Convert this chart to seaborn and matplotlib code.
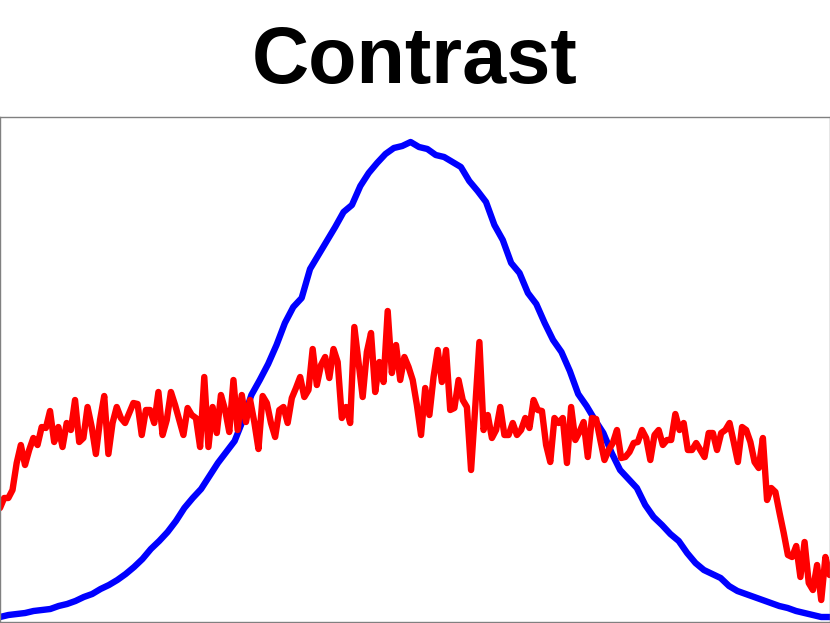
import numpy as np
import matplotlib
matplotlib.use('Agg')
import matplotlib.pyplot as plt
import seaborn as sns

# values (height above the bottom of the axes)
red_vals = [114, 124, 124, 132, 159, 177, 157, 172, 184, 177,
            195, 194, 211, 180, 195, 175, 199, 192, 222, 180,
            184, 215, 195, 168, 202, 226, 168, 199, 215, 204,
            199, 209, 219, 218, 187, 212, 212, 199, 230, 187,
            202, 230, 217, 202, 187, 214, 207, 204, 175, 245,
            175, 215, 189, 227, 212, 190, 242, 192, 227, 200,
            222, 200, 173, 226, 219, 199, 185, 212, 215, 199,
            224, 234, 245, 225, 232, 273, 237, 257, 265, 244,
            273, 260, 204, 215, 199, 295, 260, 225, 270, 289,
            230, 260, 240, 311, 249, 277, 242, 265, 255, 242,
            217, 187, 234, 207, 245, 272, 240, 272, 212, 214,
            242, 222, 215, 152, 215, 280, 192, 207, 184, 192,
            215, 187, 187, 199, 187, 192, 204, 194, 222, 212,
            211, 177, 160, 204, 199, 204, 159, 215, 182, 190,
            200, 165, 204, 203, 182, 162, 172, 179, 192, 164,
            165, 170, 179, 180, 192, 184, 162, 187, 192, 177,
            182, 182, 208, 192, 199, 172, 172, 179, 172, 165,
            189, 189, 172, 189, 192, 199, 180, 160, 195, 192,
            180, 160, 154, 184, 122, 134, 130, 109, 89, 67,
            65, 76, 45, 80, 39, 32, 57, 22, 65, 47]

blue_vals = [5, 7, 8, 9, 11, 12, 13, 16, 18, 21,
             25, 28, 33, 37, 42, 48, 55, 63, 73, 81,
             90, 101, 114, 124, 133, 146, 159, 170, 181, 202,
             227, 242, 258, 277, 299, 315, 324, 353, 367, 381,
             395, 410, 417, 436, 449, 459, 468, 474, 476, 480,
             475, 473, 467, 465, 460, 455, 441, 431, 420, 397,
             382, 359, 349, 329, 318, 299, 282, 270, 251, 228,
             216, 202, 189, 169, 152, 143, 134, 117, 105, 97,
             88, 81, 69, 59, 52, 48, 44, 36, 31, 28,
             25, 22, 19, 16, 14, 11, 9, 7, 5, 5]

red_x = np.arange(len(red_vals))
blue_x = np.linspace(0, len(red_vals) - 1, len(blue_vals))

sns.set_style("white")
plt.rcParams['font.family'] = ['Liberation Sans', 'DejaVu Sans']

fig = plt.figure(figsize=(8.3, 6.23), dpi=100)
ax = fig.add_axes([0.0, 0.0016, 0.9995, 0.8106])

sns.lineplot(x=blue_x, y=blue_vals, color='#0000FF', linewidth=4.6, ax=ax)
sns.lineplot(x=red_x, y=red_vals, color='#FF0000', linewidth=4.6, ax=ax)

ax.set_xlim(0, len(red_vals) - 1)
ax.set_ylim(0, 505)
ax.set_xticks([])
ax.set_yticks([])
for s in ax.spines.values():
    s.set_color('#808080')
    s.set_linewidth(1)

fig.text(0.5, 0.9, 'Contrast', ha='center', va='center',
         fontsize=57, fontweight='bold', color='black')

plt.savefig('out.png', dpi=100)
